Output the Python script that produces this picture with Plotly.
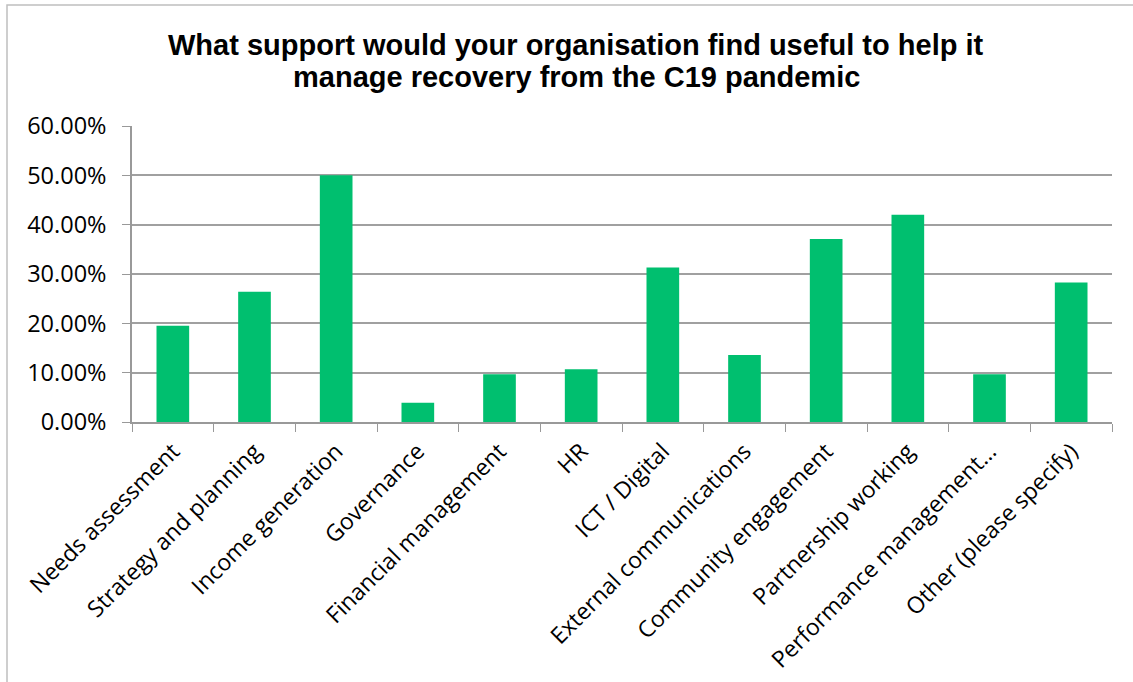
import plotly.graph_objects as go

categories = [
    "Needs assessment", "Strategy and planning", "Income generation", "Governance",
    "Financial management", "HR", "ICT / Digital", "External communications",
    "Community engagement", "Partnership working", "Performance management…",
    "Other (please specify)",
]
values = [0.195, 0.264, 0.500, 0.039, 0.097, 0.107, 0.313, 0.136, 0.371, 0.420, 0.097, 0.283]
y_ticks = [0, 0.1, 0.2, 0.3, 0.4, 0.5, 0.6]
title_lines = [
    "What support would your organisation find useful to help it",
    "manage recovery from the C19 pandemic",
]

fig = go.Figure(go.Bar(
    x=categories, y=values, width=0.4,
    marker=dict(color="#00BF6F", line=dict(width=0)),
))

L, R, T, B = 132, 21, 126, 260
W, H = 1133, 682
pw, ph = W - L - R, H - T - B

def px_x(x):
    return (x - L) / pw

def px_y(y):
    return (H - B - y) / ph

for i, (line, ypx) in enumerate(zip(title_lines, [45, 77])):
    fig.add_annotation(
        text=f"<b>{line}</b>", xref="paper", yref="paper",
        x=px_x(576), y=px_y(ypx), xanchor="center", yanchor="middle",
        showarrow=False, font=dict(family="Liberation Sans", size=29, color="#000"),
    )

fig.add_shape(type="rect", xref="paper", yref="paper",
              x0=px_x(7), x1=px_x(1160), y0=px_y(5), y1=px_y(700),
              line=dict(color="#BFBFBF", width=1.5), fillcolor="rgba(0,0,0,0)", layer="below")

fig.update_layout(
    width=W, height=H, margin=dict(l=L, r=R, t=T, b=B),
    plot_bgcolor="white", paper_bgcolor="white", showlegend=False,
    font=dict(family="Open Sans", color="#000"),
)
fig.update_xaxes(
    type="category", range=[-0.5, 11.5], tickangle=-45, tickson="boundaries",
    ticks="outside", ticklen=8, tickcolor="#999", showline=True, linecolor="#999",
    linewidth=1.5, showgrid=False, tickfont=dict(family="Open Sans", size=23, color="#000"),
    ticklabelstandoff=5, automargin=False,
)
fig.update_yaxes(
    range=[0, 0.6], tickvals=y_ticks, tickformat=".2%", ticks="outside", ticklen=8,
    tickcolor="#999", showline=True, linecolor="#999", linewidth=1.5,
    showgrid=True, gridcolor="#A0A0A0", gridwidth=1.5, zeroline=False,
    tickfont=dict(family="Open Sans", size=23.5, color="#000"), ticklabelstandoff=11,
    automargin=False,
)

fig.write_html("out.html")
